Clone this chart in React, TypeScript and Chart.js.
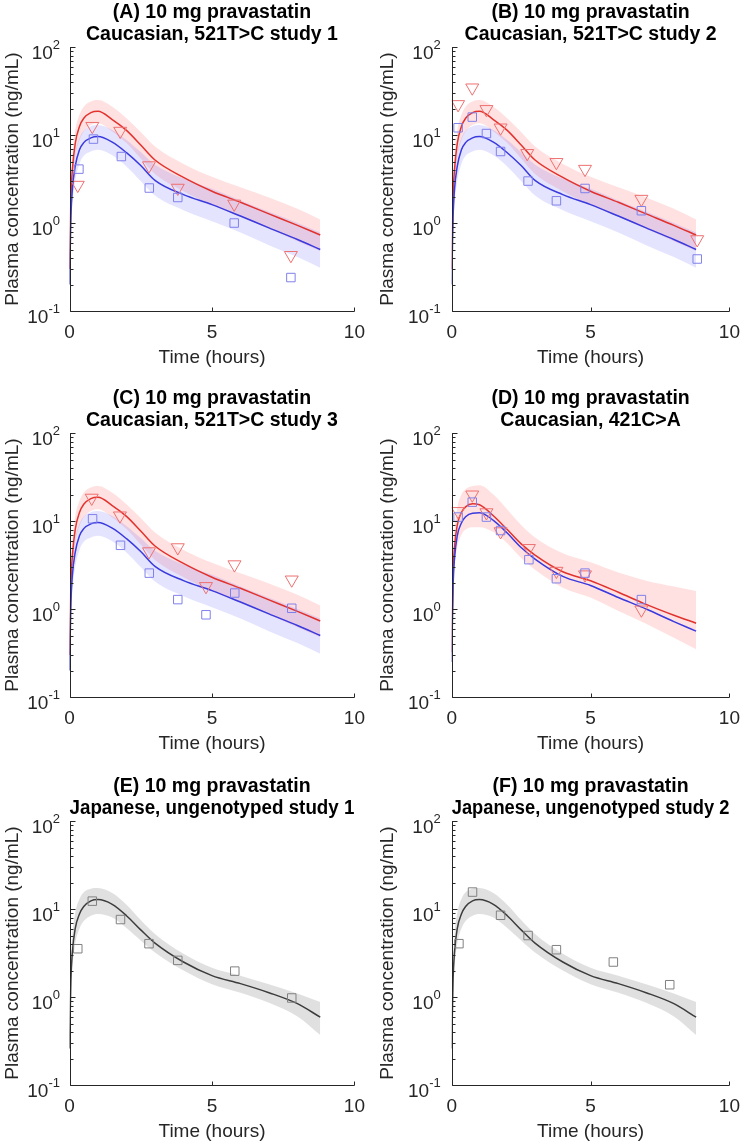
import React, { useEffect, useRef } from 'react';
import { Chart, registerables } from 'chart.js';

Chart.register(...registerables);

const FONT = '"Liberation Sans", Arial, "DejaVu Sans", sans-serif';

// ---------- axis ticks ----------
const xTickValues = [0, 5, 10];
const xTickLabels = ['0', '5', '10'];
const yTickValues = [0.1, 1, 10, 100];
const yTickBase = '10';
const yTickExponents = ['-1', '0', '1', '2'];
const yMinorMultipliers = [2, 3, 4, 5, 6, 7, 8, 9];

// ---------- model simulation time grid (hours) ----------
const modelTime = [0, 0.05, 0.1, 0.2, 0.35, 0.5, 0.75, 1, 1.5, 2, 2.5, 3, 4, 5, 6, 7, 8, 8.8];

// 521T>C model (panels A–C): red = variant, blue = reference
const red521 = [0.3, 2.0, 4.0, 8.0, 12.5, 15.5, 18.0, 18.6, 15.0, 11.3, 7.7, 5.2, 3.3, 2.3, 1.72, 1.27, 0.94, 0.73];
const red521Hi = [0.35, 2.9, 5.8, 11.2, 17, 21, 24, 25, 21, 15.5, 10.8, 7.4, 4.7, 3.35, 2.55, 1.95, 1.45, 1.1];
const red521Lo = [0.25, 1.3, 2.7, 5.6, 8.8, 11, 13, 13.6, 11, 8.1, 5.4, 3.6, 2.3, 1.6, 1.18, 0.86, 0.62, 0.48];
const blue521 = [0.2, 1.2, 2.4, 4.4, 6.8, 8.2, 9.3, 9.6, 8.3, 6.3, 4.5, 3.05, 2.1, 1.62, 1.2, 0.88, 0.65, 0.5];
const blue521Hi = [0.24, 1.8, 3.5, 6.3, 9.3, 11.2, 12.6, 13.0, 11.4, 8.8, 6.4, 4.6, 3.2, 2.45, 1.8, 1.34, 1.0, 0.78];
const blue521Lo = [0.17, 0.8, 1.6, 3.0, 4.7, 5.8, 6.5, 6.8, 5.9, 4.4, 3.0, 2.05, 1.4, 1.05, 0.78, 0.56, 0.41, 0.31];

// 421C>A model (panel D)
const red421 = [0.32, 2.5, 5.0, 9.0, 12.5, 14.5, 15.7, 15.3, 11.5, 8.0, 5.5, 4.1, 2.65, 2.1, 1.55, 1.13, 0.85, 0.69];
const red421Hi = [0.38, 4.0, 8.0, 14, 20, 23, 25, 25.5, 20, 13.5, 9.0, 6.5, 4.3, 3.4, 2.6, 2.1, 1.8, 1.6];
const red421Lo = [0.27, 1.5, 3.0, 5.0, 7.0, 8.0, 8.5, 8.5, 7.5, 5.6, 3.8, 2.8, 1.75, 1.35, 0.95, 0.68, 0.47, 0.35];
const blue421 = [0.25, 1.8, 3.7, 6.8, 9.5, 11.2, 12.3, 12.4, 10.2, 7.3, 5.0, 3.7, 2.35, 1.85, 1.35, 1.0, 0.72, 0.56];

// Japanese ungenotyped model (panels E–F)
const grayJp = [0.26, 1.6, 3.2, 6.0, 8.8, 10.7, 12.4, 12.8, 11.3, 8.4, 5.8, 4.1, 2.5, 1.75, 1.42, 1.12, 0.84, 0.59];
const grayJpHi = [0.3, 2.5, 5.0, 9.0, 13, 15.5, 17, 17.3, 15.2, 11.2, 7.5, 5.2, 3.1, 2.15, 1.75, 1.4, 1.1, 0.88];
const grayJpLo = [0.22, 1.0, 2.1, 4.0, 6.0, 7.3, 8.4, 8.8, 8.0, 6.1, 4.4, 3.2, 2.0, 1.4, 1.12, 0.86, 0.6, 0.37];

// ---------- observed data ----------
const obsA_redT = [0.29, 0.8, 1.78, 2.79, 3.8, 5.78, 7.77];
const obsA_redY = [2.7, 12.6, 11.1, 4.5, 2.5, 1.65, 0.43];
const obsA_blueT = [0.33, 0.84, 1.82, 2.8, 3.8, 5.78, 7.77];
const obsA_blueY = [4.1, 9.0, 5.7, 2.5, 1.95, 1.0, 0.24];

const obsB_redT = [0.23, 0.74, 1.25, 1.76, 2.72, 3.77, 4.8, 6.83, 8.84];
const obsB_redY = [22.3, 34.5, 19.6, 12.1, 6.2, 4.9, 4.1, 1.87, 0.65];
const obsB_blueT = [0.23, 0.74, 1.25, 1.76, 2.75, 3.77, 4.8, 6.83, 8.84];
const obsB_blueY = [12.1, 16.0, 10.4, 6.5, 3.0, 1.79, 2.47, 1.38, 0.39];

const obsC_redT = [0.78, 1.77, 2.79, 3.8, 4.79, 5.79, 7.8];
const obsC_redY = [18.3, 11.5, 4.5, 5.0, 1.81, 3.2, 2.15];
const obsC_blueT = [0.81, 1.79, 2.8, 3.8, 4.79, 5.8, 7.8];
const obsC_blueY = [10.6, 5.3, 2.56, 1.28, 0.86, 1.52, 1.02];

const obsD_redT = [0.23, 0.74, 1.25, 1.76, 2.78, 3.77, 4.8, 6.83];
const obsD_redY = [12.9, 19.9, 12.5, 7.6, 4.9, 2.7, 2.46, 0.98];
const obsD_blueT = [0.23, 0.74, 1.25, 1.76, 2.78, 3.77, 4.8, 6.83];
const obsD_blueY = [11.1, 16.4, 11.1, 7.8, 3.64, 2.21, 2.56, 1.28];

const obsE_T = [0.29, 0.8, 1.79, 2.79, 3.8, 5.8, 7.8];
const obsE_Y = [3.54, 12.3, 7.6, 4.04, 2.61, 1.97, 0.975];
const obsF_T = [0.26, 0.75, 1.76, 2.75, 3.77, 5.82, 7.85];
const obsF_Y = [4.04, 15.6, 8.5, 5.0, 3.45, 2.5, 1.38];

// ---------- styles ----------
const RED_LINE = 'rgb(226,50,46)';
const BLUE_LINE = 'rgb(58,58,222)';
const GRAY_LINE = 'rgb(60,60,60)';
const RED_FILL = 'rgba(255,40,40,0.14)';
const BLUE_FILL = 'rgba(50,50,255,0.13)';
const GRAY_FILL = 'rgba(0,0,0,0.12)';
const RED_MARK = 'rgb(238,112,112)';
const BLUE_MARK = 'rgb(128,128,236)';
const GRAY_MARK = 'rgb(128,128,128)';
const AXIS_COLOR = '#262626';

const ROW_TOPS = [0, 386, 774];
const CANVAS_W = 375;
const CANVAS_H = 372;
const Y_AXIS_W = [69.5, 76.7];
const RIGHT_PAD = [16.7, 13.3];
const Y_LABEL_GAP = [9.5, 11];

type Band = { hi: number[]; lo: number[]; color: string };
type Line = { y: number[]; color: string };
type Markers = { t: number[]; y: number[]; style: 'triangle' | 'rect'; color: string };
type PanelDef = { id: string; title: string[]; col: number; row: number; bands: Band[]; lines: Line[]; markers: Markers[] };

const panels: PanelDef[] = [
  {
    id: 'A', title: ['(A) 10 mg pravastatin', 'Caucasian, 521T>C study 1'], col: 0, row: 0,
    bands: [{ hi: red521Hi, lo: red521Lo, color: RED_FILL }, { hi: blue521Hi, lo: blue521Lo, color: BLUE_FILL }],
    lines: [{ y: red521, color: RED_LINE }, { y: blue521, color: BLUE_LINE }],
    markers: [
      { t: obsA_redT, y: obsA_redY, style: 'triangle', color: RED_MARK },
      { t: obsA_blueT, y: obsA_blueY, style: 'rect', color: BLUE_MARK },
    ],
  },
  {
    id: 'B', title: ['(B) 10 mg pravastatin', 'Caucasian, 521T>C study 2'], col: 1, row: 0,
    bands: [{ hi: red521Hi, lo: red521Lo, color: RED_FILL }, { hi: blue521Hi, lo: blue521Lo, color: BLUE_FILL }],
    lines: [{ y: red521, color: RED_LINE }, { y: blue521, color: BLUE_LINE }],
    markers: [
      { t: obsB_redT, y: obsB_redY, style: 'triangle', color: RED_MARK },
      { t: obsB_blueT, y: obsB_blueY, style: 'rect', color: BLUE_MARK },
    ],
  },
  {
    id: 'C', title: ['(C) 10 mg pravastatin', 'Caucasian, 521T>C study 3'], col: 0, row: 1,
    bands: [{ hi: red521Hi, lo: red521Lo, color: RED_FILL }, { hi: blue521Hi, lo: blue521Lo, color: BLUE_FILL }],
    lines: [{ y: red521, color: RED_LINE }, { y: blue521, color: BLUE_LINE }],
    markers: [
      { t: obsC_redT, y: obsC_redY, style: 'triangle', color: RED_MARK },
      { t: obsC_blueT, y: obsC_blueY, style: 'rect', color: BLUE_MARK },
    ],
  },
  {
    id: 'D', title: ['(D) 10 mg pravastatin', 'Caucasian, 421C>A'], col: 1, row: 1,
    bands: [{ hi: red421Hi, lo: red421Lo, color: RED_FILL }],
    lines: [{ y: red421, color: RED_LINE }, { y: blue421, color: BLUE_LINE }],
    markers: [
      { t: obsD_redT, y: obsD_redY, style: 'triangle', color: RED_MARK },
      { t: obsD_blueT, y: obsD_blueY, style: 'rect', color: BLUE_MARK },
    ],
  },
  {
    id: 'E', title: ['(E) 10 mg pravastatin', 'Japanese, ungenotyped study 1'], col: 0, row: 2,
    bands: [{ hi: grayJpHi, lo: grayJpLo, color: GRAY_FILL }],
    lines: [{ y: grayJp, color: GRAY_LINE }],
    markers: [{ t: obsE_T, y: obsE_Y, style: 'rect', color: GRAY_MARK }],
  },
  {
    id: 'F', title: ['(F) 10 mg pravastatin', 'Japanese, ungenotyped study 2'], col: 1, row: 2,
    bands: [{ hi: grayJpHi, lo: grayJpLo, color: GRAY_FILL }],
    lines: [{ y: grayJp, color: GRAY_LINE }],
    markers: [{ t: obsF_T, y: obsF_Y, style: 'rect', color: GRAY_MARK }],
  },
];

function pts(t: number[], y: number[]) {
  return t.map((x, i) => ({ x, y: y[i] }));
}

function makeAxesPlugin(col: number) {
  return {
    id: 'matlabAxes',
    afterDatasetsDraw(chart: any) {
      const { ctx, chartArea: a, scales } = chart;
      const xs = scales.x;
      const ys = scales.y;
      ctx.save();
      ctx.strokeStyle = AXIS_COLOR;
      ctx.lineWidth = 1;
      ctx.beginPath();
      const L = Math.round(a.left) + 0.5;
      const B = Math.round(a.bottom) + 0.5;
      ctx.moveTo(L, a.top);
      ctx.lineTo(L, B);
      ctx.lineTo(a.right, B);
      xTickValues.forEach((v) => {
        const px = Math.round(xs.getPixelForValue(v)) + 0.5;
        ctx.moveTo(px, B);
        ctx.lineTo(px, B - 4);
      });
      yTickValues.forEach((v) => {
        const py = Math.round(ys.getPixelForValue(v)) + 0.5;
        ctx.moveTo(L, py);
        ctx.lineTo(L + 5, py);
      });
      yTickValues.slice(0, 3).forEach((dec) => {
        yMinorMultipliers.forEach((m) => {
          const py = Math.round(ys.getPixelForValue(dec * m)) + 0.5;
          ctx.moveTo(L, py);
          ctx.lineTo(L + 3, py);
        });
      });
      ctx.stroke();

      // y tick labels with superscript exponents
      ctx.fillStyle = AXIS_COLOR;
      ctx.textAlign = 'right';
      ctx.textBaseline = 'alphabetic';
      const right = a.left - Y_LABEL_GAP[col];
      yTickValues.forEach((v, i) => {
        const py = ys.getPixelForValue(v);
        const base = py + 11.5;
        ctx.font = `13px ${FONT}`;
        const ew = ctx.measureText(yTickExponents[i]).width;
        ctx.fillText(yTickExponents[i], right, base - 10);
        ctx.font = `19px ${FONT}`;
        ctx.fillText(yTickBase, right - ew, base);
      });
      ctx.restore();
    },
  };
}

function buildConfig(p: PanelDef): any {
  const datasets: any[] = [];
  let order = 100;
  p.bands.forEach((b) => {
    datasets.push({
      data: pts(modelTime, b.hi), fill: '+1', backgroundColor: b.color, borderWidth: 0,
      borderColor: 'rgba(0,0,0,0)', pointRadius: 0, cubicInterpolationMode: 'monotone', order: order--,
    });
    datasets.push({
      data: pts(modelTime, b.lo), fill: false, borderWidth: 0, borderColor: 'rgba(0,0,0,0)',
      pointRadius: 0, cubicInterpolationMode: 'monotone', order: order--,
    });
  });
  p.lines.forEach((l) => {
    datasets.push({
      data: pts(modelTime, l.y), fill: false, borderColor: l.color, borderWidth: 1.5,
      pointRadius: 0, cubicInterpolationMode: 'monotone', order: order--,
    });
  });
  p.markers.forEach((m) => {
    datasets.push({
      data: pts(m.t, m.y), showLine: false, fill: false,
      pointStyle: m.style, pointRotation: m.style === 'triangle' ? 180 : 0,
      pointRadius: m.style === 'triangle' ? 7.5 : 6,
      pointBorderColor: m.color, pointBackgroundColor: 'rgba(0,0,0,0)', pointBorderWidth: 1,
      borderColor: m.color, order: order--,
    });
  });

  const col = p.col;
  return {
    type: 'line',
    data: { datasets },
    plugins: [makeAxesPlugin(col)],
    options: {
      animation: false,
      responsive: false,
      maintainAspectRatio: false,
      events: [],
      layout: { padding: { left: 0, right: RIGHT_PAD[col], top: 0, bottom: 0 } },
      plugins: {
        legend: { display: false },
        tooltip: { enabled: false },
        title: {
          display: true, text: p.title, fullSize: false, color: '#000',
          font: { family: FONT, size: 19.5, weight: 'bold', lineHeight: 1.13 },
          padding: { top: 1.5, bottom: 1.5 },
        },
      },
      scales: {
        x: {
          type: 'linear', min: 0, max: 10,
          grid: { display: false, drawTicks: false },
          border: { display: false },
          afterBuildTicks: (s: any) => { s.ticks = xTickValues.map((v) => ({ value: v })); },
          afterFit: (s: any) => { s.height = CANVAS_H - 311; },
          ticks: {
            autoSkip: false, maxRotation: 0, padding: 10, color: AXIS_COLOR,
            font: { family: FONT, size: 19 },
            callback: (_v: any, i: number) => xTickLabels[i],
          },
          title: {
            display: true, text: 'Time (hours)', color: AXIS_COLOR,
            font: { family: FONT, size: 19 }, padding: { top: 0, bottom: 2.6 },
          },
        },
        y: {
          type: 'logarithmic', min: 0.1, max: 100,
          grid: { display: false, drawTicks: false },
          border: { display: false },
          afterBuildTicks: (s: any) => { s.ticks = yTickValues.map((v) => ({ value: v })); },
          afterFit: (s: any) => { s.width = Y_AXIS_W[col]; },
          ticks: { display: false },
          title: {
            display: true, text: 'Plasma concentration (ng/mL)', color: AXIS_COLOR,
            font: { family: FONT, size: 19 }, padding: { top: 1.6, bottom: 0 },
          },
        },
      },
    },
  };
}

function Panel({ p }: { p: PanelDef }) {
  const ref = useRef<HTMLCanvasElement>(null);
  useEffect(() => {
    const chart = new Chart(ref.current as HTMLCanvasElement, buildConfig(p));
    return () => chart.destroy();
  }, [p]);
  return (
    <canvas
      ref={ref}
      width={CANVAS_W}
      height={CANVAS_H}
      style={{ position: 'absolute', left: p.col * 375, top: ROW_TOPS[p.row], width: CANVAS_W, height: CANVAS_H }}
    />
  );
}

export default function App() {
  return (
    <div style={{ position: 'absolute', left: 0, top: 0, width: 750, height: 1146, overflow: 'hidden', background: '#fff' }}>
      {panels.map((p) => (
        <Panel key={p.id} p={p} />
      ))}
    </div>
  );
}
